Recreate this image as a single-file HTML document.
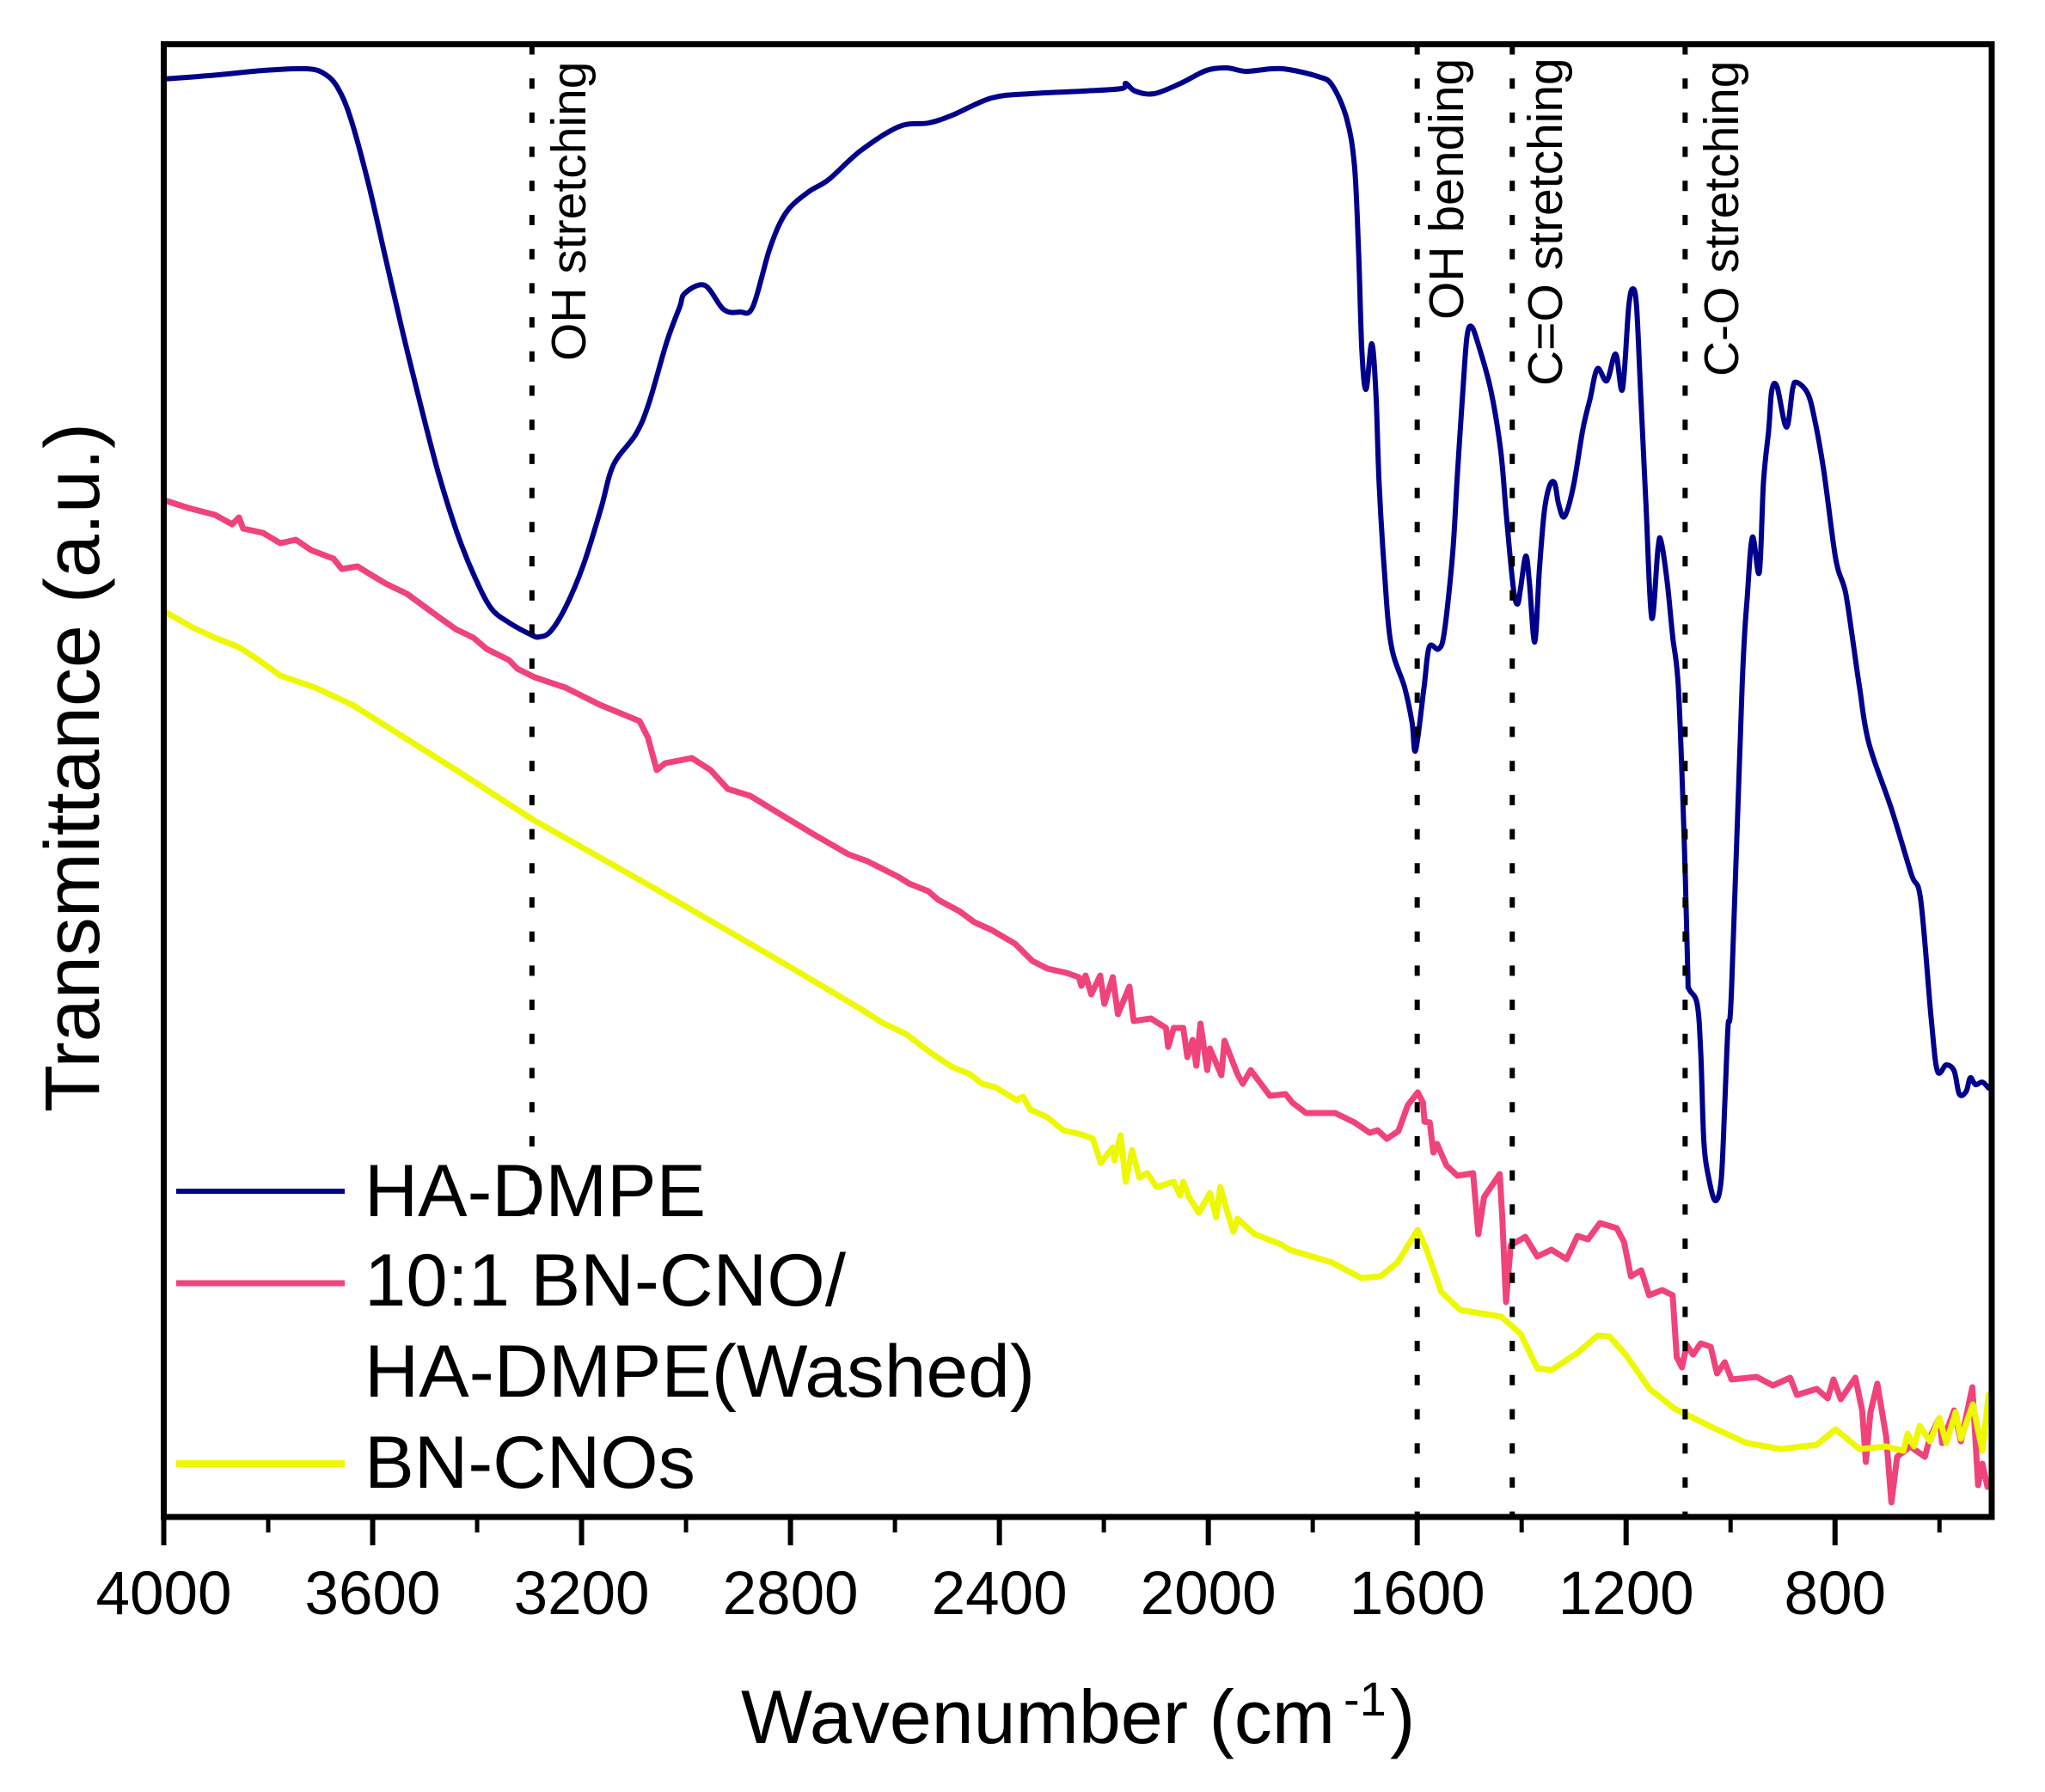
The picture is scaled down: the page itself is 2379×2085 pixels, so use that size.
<!DOCTYPE html>
<html lang="en">
<head>
<meta charset="utf-8">
<title>FTIR transmittance spectra</title>
<style>
html,body{margin:0;padding:0;background:#fff;}
svg{display:block;}
text{font-family:"Liberation Sans",Arial,sans-serif;fill:#000;}
</style>
</head>
<body>
<svg id="chart" xmlns="http://www.w3.org/2000/svg" width="2379" height="2085" viewBox="0 0 2379 2085">
  <rect x="0" y="0" width="2379" height="2085" fill="#ffffff"/>
  <g id="series-layer"></g>
  <g id="guide-layer"></g>
  <g id="frame-layer"></g>

  <text transform="translate(681,420) rotate(-90)" font-size="57">OH stretching</text>
  <text transform="translate(1702,372) rotate(-90)" font-size="57">OH bending</text>
  <text transform="translate(1817,449) rotate(-90)" font-size="57">C=O stretching</text>
  <text transform="translate(2022,438) rotate(-90)" font-size="57">C-O stretching</text>

  <g>
    <line x1="205" x2="401" y1="1386" y2="1386" stroke="#00008b" stroke-width="6"/>
    <text x="424" y="1415" font-size="86" textLength="397" lengthAdjust="spacingAndGlyphs">HA-DMPE</text>
    <line x1="205" x2="401" y1="1493" y2="1493" stroke="#f0437a" stroke-width="7"/>
    <text x="424" y="1519" font-size="86" textLength="560" lengthAdjust="spacingAndGlyphs">10:1 BN-CNO/</text>
    <text x="424" y="1625" font-size="86" textLength="780" lengthAdjust="spacingAndGlyphs">HA-DMPE(Washed)</text>
    <line x1="205" x2="401" y1="1703" y2="1703" stroke="#eef800" stroke-width="8"/>
    <text x="424" y="1731" font-size="86" textLength="385" lengthAdjust="spacingAndGlyphs">BN-CNOs</text>
  </g>

  <text y="2028" font-size="88"><tspan x="862">Wavenumber (cm</tspan><tspan x="1563" y="1996" font-size="56">-1</tspan><tspan x="1617" y="2028">)</tspan></text>
  <text transform="translate(115,893) rotate(-90)" font-size="90" text-anchor="middle">Transmittance (a.u.)</text>
</svg>
<script>
var majorTicks = [4000, 3600, 3200, 2800, 2400, 2000, 1600, 1200, 800];
var minorTicks = [3800, 3400, 3000, 2600, 2200, 1800, 1400, 1000, 600];
var guideWavenumbers = [3295, 1600, 1418, 1087];
var guideNames = ['oh-stretching', 'oh-bending', 'c-double-o-stretching', 'c-o-stretching'];
var guideLowest = [352, 0, 0, 0];

var haWavenumber = [4000,3894,3810,3726,3692,3667,3642,3608,3575,3542,3507,3474,3440,3407,3374,3340,3295,3281,3260,3231,3197,3163,3139,3096,3071,3037,3012,3002,2964,2928,2897,2872,2839,2808,2765,2727,2665,2591,2535,2490,2415,2340,2240,2166,2158,2140,2104,2053,2004,1965,1928,1878,1845,1790,1763,1735,1720,1712,1706,1698,1687,1679,1673,1663,1650,1624,1610,1603,1587,1577,1559,1548,1532,1523,1513,1505,1496,1482,1459,1440,1429,1416,1408,1402,1392,1385,1375,1366,1357,1347,1337,1329,1318,1301,1283,1269,1255,1237,1220,1207,1195,1187,1180,1172,1162,1151,1139,1133,1121,1111,1100,1089,1082,1080,1064,1057,1051,1041,1029,1018,1011,1005,998,978,968,958,945,937,927,921,911,893,881,873,853,840,822,803,794,780,766,753,735,692,654,636,616,604,587,572,562,549,541,531,518,506];
var haTransmittance = [1673,1678,1683,1685,1679,1663,1627,1551,1464,1377,1291,1214,1148,1097,1058,1041,1026,1024,1030,1058,1107,1173,1224,1260,1296,1367,1408,1424,1433,1405,1402,1408,1477,1518,1542,1556,1590,1618,1622,1631,1651,1656,1659,1662,1668,1659,1656,1668,1683,1686,1682,1685,1684,1676,1666,1627,1571,1469,1357,1312,1365,1306,1204,1102,1015,965,925,892,965,1012,1010,1030,1122,1214,1306,1372,1385,1362,1311,1240,1163,1081,1062,1081,1118,1086,1018,1102,1168,1199,1203,1178,1164,1199,1265,1301,1336,1322,1353,1312,1408,1429,1408,1306,1178,1046,1127,1135,1086,1025,965,793,635,615,597,539,436,392,368,392,481,570,615,965,1071,1140,1099,1204,1265,1311,1315,1268,1313,1320,1308,1280,1219,1132,1102,1076,1020,965,900,824,748,718,581,519,526,519,492,495,511,503,506,499];

var washedWavenumber = [3994,3953,3902,3869,3856,3848,3810,3777,3747,3718,3675,3659,3629,3608,3575,3534,3487,3441,3407,3382,3339,3323,3290,3231,3165,3089,3073,3056,3040,2989,2953,2920,2877,2815,2752,2689,2653,2594,2573,2536,2517,2477,2448,2415,2370,2337,2308,2271,2248,2243,2235,2224,2207,2199,2183,2173,2151,2143,2110,2081,2077,2066,2048,2040,2030,2023,2015,2002,1997,1975,1969,1944,1934,1919,1882,1852,1839,1813,1757,1720,1691,1676,1658,1636,1618,1599,1589,1586,1576,1569,1562,1544,1523,1493,1483,1472,1442,1437,1430,1421,1393,1370,1343,1314,1293,1273,1250,1218,1204,1191,1171,1156,1131,1111,1103,1093,1084,1072,1057,1038,1026,1011,998,950,919,886,873,835,814,803,789,761,748,741,732,719,702,692,681,656,628,618,600,595,572,559,537,526,518,508];
var washedTransmittance = [1182,1174,1166,1155,1163,1150,1145,1133,1137,1125,1115,1103,1106,1098,1086,1074,1053,1033,1023,1010,997,987,977,965,945,926,907,869,877,883,869,847,839,816,793,771,763,745,737,728,718,705,692,683,667,647,638,633,628,618,630,608,630,597,628,585,617,577,580,569,547,569,569,535,555,525,574,520,545,514,554,515,504,520,490,492,482,470,470,459,447,450,440,449,479,494,482,460,459,424,434,409,397,400,329,372,399,347,250,316,326,303,311,300,327,323,342,336,320,280,287,258,264,258,186,174,200,189,202,198,167,180,160,163,153,162,142,149,138,160,137,162,124,64,122,155,93,17,70,82,70,93,115,86,124,88,151,37,62,35];

var bnWavenumber = [3994,3945,3902,3856,3818,3777,3710,3639,3440,3295,3065,2815,2668,2624,2579,2536,2492,2456,2433,2408,2367,2355,2341,2308,2278,2242,2221,2206,2183,2180,2168,2158,2146,2132,2117,2099,2066,2054,2048,2037,2018,1997,1985,1977,1962,1952,1944,1911,1860,1845,1763,1707,1670,1638,1599,1582,1554,1518,1439,1402,1370,1343,1293,1255,1232,1201,1155,1107,1034,969,904,835,799,753,702,669,661,649,638,618,600,587,569,559,536,518,506];
var bnTransmittance = [1052,1035,1023,1012,997,979,965,945,869,812,733,645,592,575,562,542,524,515,504,500,485,489,474,465,450,445,440,412,430,415,444,390,427,395,400,384,390,374,390,372,354,377,349,384,352,332,347,329,317,311,296,278,280,296,334,311,262,241,233,213,173,171,191,211,210,189,149,126,104,86,79,84,102,79,82,77,97,82,106,88,115,86,122,91,131,77,142];

var svgNS = 'http://www.w3.org/2000/svg';
var plotLeft = 190.5, plotRight = 2317, plotTop = 51.5, plotBottom = 1765;
var axisHigh = 4000, axisLow = 500, valueTop = 1713.5;

function xScale(w) {
  return plotLeft + (axisHigh - w) * (plotRight - plotLeft) / (axisHigh - axisLow);
}
function yScale(t) {
  return plotBottom - t * (plotBottom - plotTop) / valueTop;
}
function make(tag, attrs) {
  var el = document.createElementNS(svgNS, tag);
  for (var k in attrs) { el.setAttribute(k, attrs[k]); }
  return el;
}
function pointsFor(ws, ts) {
  var out = [];
  for (var i = 0; i < ws.length; i++) {
    out.push(xScale(ws[i]).toFixed(1) + ',' + yScale(ts[i]).toFixed(1));
  }
  return out.join(' ');
}
function smoothPathFor(ws, ts) {
  var px = ws.map(xScale), py = ts.map(yScale), n = ws.length;
  var d = 'M' + px[0].toFixed(1) + ' ' + py[0].toFixed(1);
  for (var i = 0; i < n - 1; i++) {
    var a = Math.max(i - 1, 0), b = Math.min(i + 2, n - 1);
    var c1x = px[i] + (px[i + 1] - px[a]) / 6, c1y = py[i] + (py[i + 1] - py[a]) / 6;
    var c2x = px[i + 1] - (px[b] - px[i]) / 6, c2y = py[i + 1] - (py[b] - py[i]) / 6;
    d += 'C' + c1x.toFixed(1) + ' ' + c1y.toFixed(1) + ' ' + c2x.toFixed(1) + ' ' + c2y.toFixed(1) + ' ' + px[i + 1].toFixed(1) + ' ' + py[i + 1].toFixed(1);
  }
  return d;
}

var seriesLayer = document.getElementById('series-layer');
var guideLayer = document.getElementById('guide-layer');
var frameLayer = document.getElementById('frame-layer');

var haLine = make('path', {d: smoothPathFor(haWavenumber, haTransmittance), fill: 'none', stroke: '#00008b', 'stroke-width': 6, 'stroke-linejoin': 'round', 'stroke-linecap': 'round'});


seriesLayer.appendChild(haLine);

var washedLine = make('polyline', {points: pointsFor(washedWavenumber, washedTransmittance), fill: 'none', stroke: '#f0437a', 'stroke-width': 7, 'stroke-linejoin': 'round', 'stroke-linecap': 'round'});


seriesLayer.appendChild(washedLine);

var bnLine = make('polyline', {points: pointsFor(bnWavenumber, bnTransmittance), fill: 'none', stroke: '#eef800', 'stroke-width': 7, 'stroke-linejoin': 'round', 'stroke-linecap': 'round'});


seriesLayer.appendChild(bnLine);

guideWavenumbers.forEach(function (w, i) {
  var g = make('line', {x1: xScale(w), x2: xScale(w), y1: plotTop, y2: yScale(guideLowest[i]), stroke: '#000', 'stroke-width': 6, 'stroke-dasharray': '12 27.7'});
  
  
  guideLayer.appendChild(g);
});

var frame = make('rect', {x: plotLeft, y: plotTop, width: plotRight - plotLeft, height: plotBottom - plotTop, fill: 'none', stroke: '#000', 'stroke-width': 7});


frameLayer.appendChild(frame);

majorTicks.forEach(function (w) {
  var x = xScale(w);
  var t = make('line', {x1: x, x2: x, y1: plotBottom, y2: 1798, stroke: '#000', 'stroke-width': 6});
  
  
  frameLayer.appendChild(t);
  var label = make('text', {x: x, y: 1878, 'font-size': 71, 'text-anchor': 'middle'});
  
  
  label.textContent = String(w);
  frameLayer.appendChild(label);
});

minorTicks.forEach(function (w) {
  var x = xScale(w);
  var t = make('line', {x1: x, x2: x, y1: plotBottom, y2: 1783, stroke: '#000', 'stroke-width': 5});
  
  
  frameLayer.appendChild(t);
});
</script>
</body>
</html>
